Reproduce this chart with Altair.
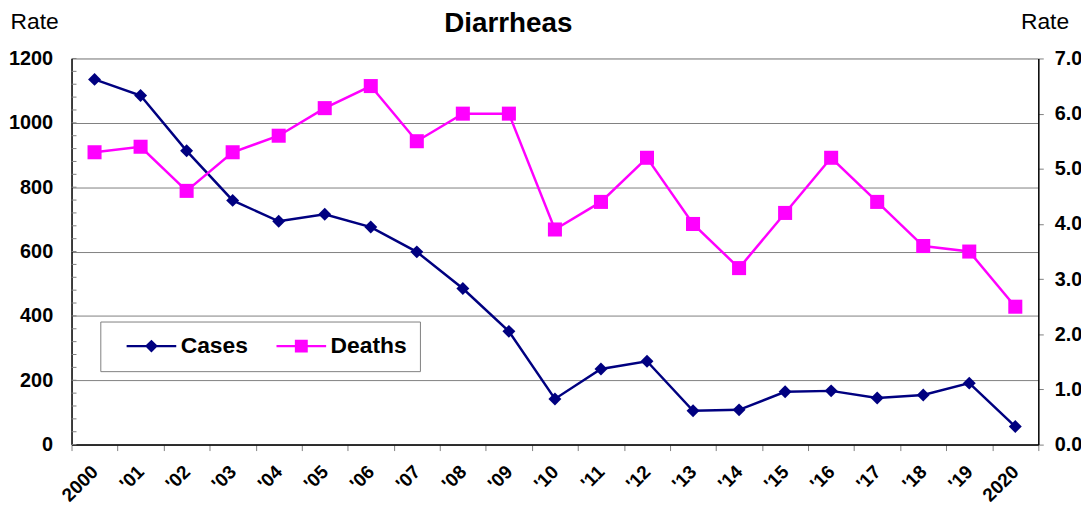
import altair as alt
import pandas as pd

FONT = "Liberation Sans"

years = ["2000", "'01", "'02", "'03", "'04", "'05", "'06", "'07", "'08", "'09", "'10",
         "'11", "'12", "'13", "'14", "'15", "'16", "'17", "'18", "'19", "2020"]
cases = [1135, 1085, 913, 759, 694, 716, 676, 599, 485, 352, 142,
         235, 259, 105, 108, 164, 167, 145, 154, 191, 56]
deaths = [5.3, 5.4, 4.6, 5.3, 5.6, 6.1, 6.5, 5.5, 6.0, 6.0, 3.9,
          4.4, 5.2, 4.0, 3.2, 4.2, 5.2, 4.4, 3.6, 3.5, 2.5]
series_names = ["Cases", "Deaths"]
series_colors = ["#000080", "#FF00FF"]
left_ticks = [0, 200, 400, 600, 800, 1000, 1200]
left_minor = [0, 40, 80, 120, 160, 200, 240, 280, 320, 360, 400, 440, 480, 520, 560, 600,
              640, 680, 720, 760, 800, 840, 880, 920, 960, 1000, 1040, 1080, 1120, 1160, 1200]
right_ticks = [0, 1, 2, 3, 4, 5, 6, 7]

# legend glyphs: line segment + marker (custom symbol paths)
legend_paths = [
    "M0.4,-0.24H10.4V0.24H0.4Z M5.4,-1.3L6.7,0L5.4,1.3L4.1,0Z",
    "M0.4,-0.24H10.4V0.24H0.4Z M4.1,-1.3H6.7V1.3H4.1Z",
]

df = pd.DataFrame({"year": years, "Cases": cases, "Deaths": deaths})
df_minor = pd.DataFrame({"Cases": left_minor})
df_leg = pd.DataFrame({"series": series_names})

x_enc = alt.X(
    "year:N", sort=years,
    scale=alt.Scale(paddingInner=0, paddingOuter=0),
    axis=alt.Axis(
        title=None, tickBand="extent", labelAngle=-45, labelAlign="right",
        labelBaseline="middle", labelFont=FONT, labelFontSize=19,
        labelFontWeight="bold", labelColor="black", labelPadding=18, tickColor="#808080",
        tickSize=6, domainColor="black", domainWidth=1.5, grid=False,
    ),
)

left_scale = alt.Scale(domain=[0, 1200], nice=False, zero=True)
left_axis = alt.Axis(
    values=left_ticks, grid=True, gridColor="#808080", gridWidth=1, ticks=False,
    domainColor="black", domainWidth=1.5, labelFont=FONT, labelFontSize=20,
    labelFontWeight="bold", labelColor="black", labelPadding=19, format="d",
    title="Rate", titleAngle=0, titleX=-62, titleY=-30, titleAlign="left",
    titleBaseline="alphabetic", titleFont=FONT, titleFontSize=23,
    titleFontWeight="normal", titleColor="black",
)
right_scale = alt.Scale(domain=[0, 7], nice=False, zero=True)
right_axis = alt.Axis(
    orient="right", values=right_ticks, grid=False, tickColor="#808080", tickSize=5,
    domainColor="black", domainWidth=1.5, labelFont=FONT, labelFontSize=20,
    labelFontWeight="bold", labelColor="black", labelPadding=11, format=".1f",
    title="Rate", titleAngle=0, titleX=-18, titleY=-30, titleAlign="left",
    titleBaseline="alphabetic", titleFont=FONT, titleFontSize=23,
    titleFontWeight="normal", titleColor="black",
)

y_left = alt.Y("Cases:Q", scale=left_scale, axis=left_axis)
y_right = alt.Y("Deaths:Q", scale=right_scale, axis=right_axis)

base = alt.Chart(df)

minor = alt.Chart(df_minor).mark_rule(color="#808080", strokeWidth=1).encode(
    x=alt.value(0), x2=alt.value(5), y=y_left
)
cases_line = base.mark_line(color=series_colors[0], strokeWidth=2.5).encode(x=x_enc, y=y_left)
cases_pts = base.mark_point(filled=True, shape="diamond", size=170, opacity=1,
                            color=series_colors[0]).encode(x=x_enc, y=y_left)

leg = alt.Legend(
    orient="none", legendX=29, legendY=265, direction="horizontal", title=None,
    fillColor="white", strokeColor="#808080", padding=13, symbolSize=100,
    symbolStrokeWidth=0, symbolOpacity=1, labelFont=FONT, labelFontSize=23,
    labelFontWeight="bold", labelColor="black", labelOffset=45, columnPadding=15,
)
legend_layer = alt.Chart(df_leg).mark_point(filled=True, size=0).encode(
    color=alt.Color("series:N", scale=alt.Scale(domain=series_names, range=series_colors), legend=leg),
    shape=alt.Shape("series:N", scale=alt.Scale(domain=series_names, range=legend_paths), legend=leg),
)

deaths_line = base.mark_line(color=series_colors[1], strokeWidth=2.5).encode(x=x_enc, y=y_right)
deaths_pts = base.mark_point(filled=True, shape="square", size=200, opacity=1,
                             color=series_colors[1]).encode(x=x_enc, y=y_right)

left = alt.layer(minor, cases_line, cases_pts, legend_layer)
right = alt.layer(deaths_line, deaths_pts)

chart = alt.layer(left, right).resolve_scale(y="independent").properties(
    width=974, height=389,
    autosize=alt.AutoSizeParams(type="none"),
    padding={"left": 64, "top": 49, "right": 43, "bottom": 62},
    title=alt.Title("Diarrheas", font=FONT, fontSize=28, fontWeight="bold", color="black",
                    anchor="middle", dx=-47, offset=-27, baseline="top"),
).configure_view(stroke="#404040", strokeWidth=1).configure(background="white")

chart.save("out.html", embed_options={"renderer": "svg", "actions": False})
